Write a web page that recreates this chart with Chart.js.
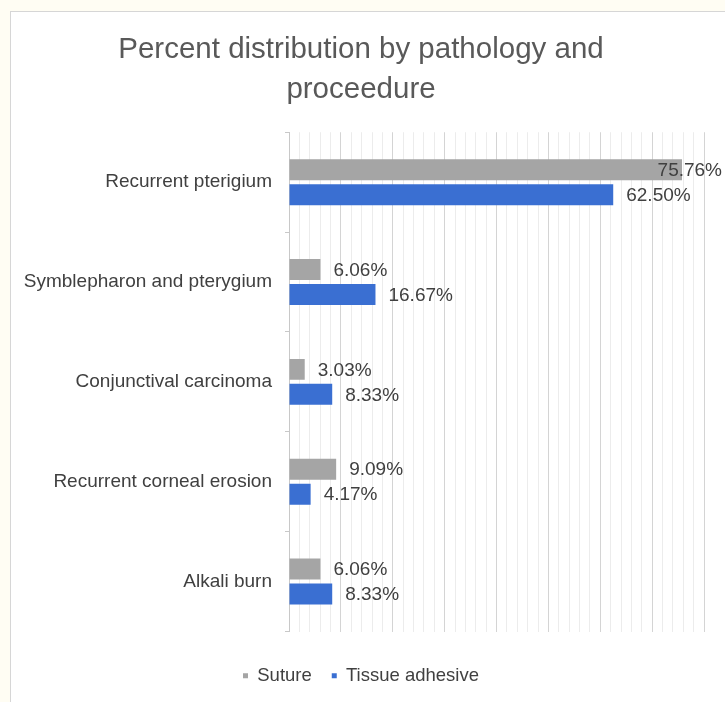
<!DOCTYPE html>
<html>
<head>
<meta charset="utf-8">
<script src="https://cdn.jsdelivr.net/npm/chart.js@4/dist/chart.umd.min.js"></script>
<style>
  html, body { margin: 0; padding: 0; background: #fffdf3; overflow: hidden; }
  #box { position: absolute; left: 10px; top: 11px; width: 740px; height: 720px; background: #ffffff; border: 1px solid #d6d6d6; box-sizing: border-box; }
  #wrap { position: absolute; left: 0; top: 0; width: 725px; height: 702px; }
</style>
</head>
<body>
<div id="box"></div>
<div id="wrap"><canvas id="c"></canvas></div>
<script>
const categories = ["Recurrent pterigium", "Symblepharon and pterygium", "Conjunctival carcinoma", "Recurrent corneal erosion", "Alkali burn"];
const suture = [75.76, 6.06, 3.03, 9.09, 6.06];
const tissueAdhesive = [62.50, 16.67, 8.33, 4.17, 8.33];
const seriesNames = ["Suture", "Tissue adhesive"];
const titleLines = ["Percent distribution by pathology and", "proceedure"];

const FONT = "'Liberation Sans', Arial, sans-serif";
const PAD_LEFT = 18;

const valueLabels = {
  id: 'valueLabels',
  afterDatasetsDraw(chart) {
    const ctx = chart.ctx;
    ctx.save();
    ctx.font = "19px " + FONT;
    ctx.fillStyle = '#404040';
    ctx.textBaseline = 'middle';
    ctx.textAlign = 'left';
    chart.data.datasets.forEach((ds, di) => {
      const meta = chart.getDatasetMeta(di);
      meta.data.forEach((bar, i) => {
        const txt = ds.data[i].toFixed(2) + '%';
        const w = ctx.measureText(txt).width;
        let x = bar.x + 13;
        if (x + w > 722) x = 722 - w;
        ctx.fillText(txt, x, bar.y + 1);
      });
    });
    ctx.restore();
  }
};

new Chart(document.getElementById('c'), {
  type: 'bar',
  data: {
    labels: categories,
    datasets: [
      { label: seriesNames[0], data: suture, backgroundColor: '#a5a5a5', borderWidth: 0, categoryPercentage: 0.5, barPercentage: 0.84 },
      { label: seriesNames[1], data: tissueAdhesive, backgroundColor: '#3a6fd2', borderWidth: 0, categoryPercentage: 0.5, barPercentage: 0.84 }
    ]
  },
  options: {
    indexAxis: 'y',
    responsive: true,
    maintainAspectRatio: false,
    animation: false,
    layout: { padding: { left: PAD_LEFT, right: 21, top: 0, bottom: 7 } },
    plugins: {
      title: {
        display: true,
        text: titleLines,
        color: '#595959',
        font: { family: FONT, size: 29.5, weight: 'normal', lineHeight: 1.36 },
        padding: { top: 30, bottom: 22 }
      },
      legend: {
        position: 'bottom',
        labels: {
          usePointStyle: true,
          pointStyle: 'rect',
          boxWidth: 5,
          boxHeight: 5,
          padding: 20,
          color: '#404040',
          font: { family: FONT, size: 18.5 }
        }
      },
      tooltip: { enabled: false }
    },
    scales: {
      x: {
        min: 0,
        max: 80,
        ticks: { display: false, stepSize: 2 },
        grid: {
          drawTicks: false,
          tickLength: 0,
          color: (c) => (c.tick && Math.round(c.tick.value) % 10 === 0) ? '#d4d4d4' : '#ececec'
        },
        border: { display: false },
        afterFit: (s) => { s.height = 15; }
      },
      y: {
        ticks: { color: '#404040', font: { family: FONT, size: 19 }, padding: 13 },
        grid: { display: true, drawOnChartArea: false, drawTicks: true, tickLength: 4, color: '#c8c8c8', offset: true },
        border: { display: true, color: '#c8c8c8' },
        afterFit: (s) => { s.width = 289 - PAD_LEFT; }
      }
    }
  },
  plugins: [valueLabels]
});
</script>
</body>
</html>
